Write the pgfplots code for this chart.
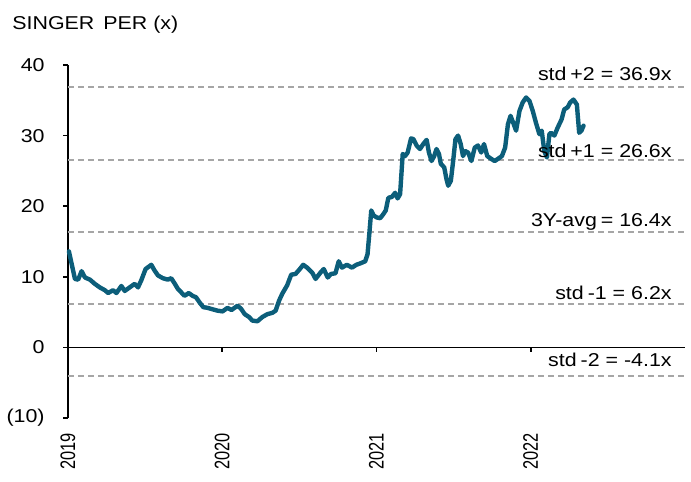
\documentclass[border=0pt]{standalone}
\usepackage{fontspec}
\setmainfont{Liberation Sans}[FakeStretch=1.15]
\newfontfamily\rotfont{Liberation Sans}[FakeStretch=0.78]
\usepackage{pgfplots}
\pgfplotsset{compat=1.18}
\definecolor{teal1}{RGB}{12,94,122}
\definecolor{dgrey}{RGB}{166,166,166}
\begin{document}
\begin{tikzpicture}[font=\fontsize{9.3}{11}\selectfont]
\useasboundingbox (-34pt,-32pt) rectangle (311.5pt,209pt);
\begin{axis}[
  scale only axis,
  width=308.5pt, height=176.5pt,
  xmin=2019, xmax=2023,
  ymin=-10, ymax=40,
  axis lines*=left,
  x axis line style={draw=none},
  y axis line style={line width=0.8pt},
  xtick={2019,2020,2021,2022},
  xticklabels={2019,2020,2021,2022},
  xtick style={draw=none},
  ytick={-10,0,10,20,30,40},
  yticklabels={(10),0,10,20,30,40},
  ytick style={line width=0.8pt, black},
  tick align=outside,
  major tick length=2.5pt,
  /pgf/number format/assume math mode=true,
  xticklabel style={font=\rotfont\fontsize{10.5}{12}\selectfont, rotate=90, anchor=east, inner sep=0pt},
  xticklabel shift=5pt,
  yticklabel style={anchor=east, inner sep=0pt},
  yticklabel shift=9pt,
  clip=false,
]
% reference lines
\addplot[dgrey, line width=1pt, dash pattern=on 3pt off 2pt] coordinates {(2019,36.9) (2023,36.9)};
\addplot[dgrey, line width=1pt, dash pattern=on 3pt off 2pt] coordinates {(2019,26.6) (2023,26.6)};
\addplot[dgrey, line width=1pt, dash pattern=on 3pt off 2pt] coordinates {(2019,16.4) (2023,16.4)};
\addplot[dgrey, line width=1pt, dash pattern=on 3pt off 2pt] coordinates {(2019,6.2) (2023,6.2)};
\addplot[dgrey, line width=1pt, dash pattern=on 3pt off 2pt] coordinates {(2019,-4.1) (2023,-4.1)};
% zero axis and its ticks
\addplot[black, line width=0.8pt] coordinates {(2019,0) (2023,0)};
\addplot[black, line width=0.8pt, ycomb] coordinates {(2020,-0.7) (2021,-0.7) (2022,-0.7)};
% PER series
\addplot[teal1, line width=2.2pt, line join=round, line cap=round] coordinates {
(2019.006,13.6) (2019.024,11.8) (2019.045,9.7) (2019.066,9.6) (2019.088,10.8)
(2019.110,9.9) (2019.142,9.6) (2019.174,9.0) (2019.206,8.5) (2019.239,8.1)
(2019.260,7.7) (2019.292,8.1) (2019.314,7.7) (2019.346,8.7) (2019.368,8.0)
(2019.400,8.5) (2019.432,9.0) (2019.454,8.5) (2019.475,9.5) (2019.503,11.1)
(2019.540,11.7) (2019.561,10.9) (2019.583,10.2) (2019.615,9.8) (2019.647,9.6)
(2019.669,9.8) (2019.690,9.1) (2019.712,8.3) (2019.734,7.8) (2019.755,7.3)
(2019.783,7.7) (2019.808,7.3) (2019.830,7.1) (2019.852,6.4) (2019.877,5.7)
(2019.905,5.6) (2019.937,5.4) (2019.970,5.2) (2020.002,5.1) (2020.034,5.6)
(2020.060,5.3) (2020.099,5.9) (2020.121,5.5) (2020.146,4.7) (2020.174,4.3)
(2020.195,3.8) (2020.228,3.7) (2020.260,4.3) (2020.292,4.7) (2020.325,4.9)
(2020.346,5.2) (2020.368,6.6) (2020.389,7.6) (2020.421,8.8) (2020.447,10.3)
(2020.475,10.4) (2020.503,11.1) (2020.525,11.7) (2020.550,11.3) (2020.583,10.6)
(2020.605,9.7) (2020.637,10.6) (2020.658,11.1) (2020.684,9.9) (2020.705,10.4)
(2020.734,10.5) (2020.755,12.2) (2020.776,11.3) (2020.808,11.7) (2020.841,11.3)
(2020.869,11.7) (2020.895,11.9) (2020.927,12.2) (2020.942,13.2) (2020.955,16.5)
(2020.966,19.4) (2020.981,18.7) (2021.002,18.4) (2021.024,18.3) (2021.045,18.9)
(2021.060,19.4) (2021.077,21.2) (2021.099,21.3) (2021.121,21.9) (2021.137,21.1)
(2021.153,21.7) (2021.170,27.4) (2021.185,27.1) (2021.202,27.6) (2021.224,29.6)
(2021.239,29.5) (2021.260,28.6) (2021.282,28.1) (2021.303,28.8) (2021.325,29.4)
(2021.340,27.6) (2021.357,26.4) (2021.374,27.1) (2021.389,28.1) (2021.405,27.4)
(2021.417,26.0) (2021.439,25.5) (2021.454,23.8) (2021.465,22.9) (2021.482,23.6)
(2021.497,26.4) (2021.512,29.5) (2021.529,30.0) (2021.546,28.8) (2021.561,27.1)
(2021.576,27.8) (2021.594,27.6) (2021.615,26.4) (2021.637,28.3) (2021.658,28.6)
(2021.679,27.6) (2021.697,28.8) (2021.718,27.1) (2021.744,26.7) (2021.766,26.4)
(2021.787,26.7) (2021.813,27.1) (2021.834,28.3) (2021.852,31.6) (2021.869,32.8)
(2021.890,31.6) (2021.905,30.7) (2021.927,33.5) (2021.948,34.7) (2021.970,35.4)
(2021.992,34.9) (2022.013,33.5) (2022.034,31.8) (2022.056,30.2) (2022.071,30.7)
(2022.088,27.8) (2022.105,26.9) (2022.121,30.2) (2022.131,30.4) (2022.153,30.0)
(2022.174,31.1) (2022.200,32.3) (2022.217,33.7) (2022.239,34.0) (2022.256,34.7)
(2022.277,35.1) (2022.299,34.4) (2022.314,30.4) (2022.329,30.7) (2022.342,31.4)
};
% labels
\node[anchor=base east, inner sep=0pt, yshift=3pt, xshift=-6.5pt] at (axis cs:2023,36.9) {std\hspace{-1pt} +2 = 36.9x};
\node[anchor=base east, inner sep=0pt, yshift=1.2pt, xshift=-6.5pt] at (axis cs:2023,26.6) {std\hspace{-1pt} +1 = 26.6x};
\node[anchor=base east, inner sep=0pt, yshift=2.5pt, xshift=-6.5pt] at (axis cs:2023,16.4) {3Y-avg\hspace{-1pt} = 16.4x};
\node[anchor=base east, inner sep=0pt, yshift=2pt, xshift=-6.5pt] at (axis cs:2023,6.2) {std\hspace{-1pt} -1 = 6.2x};
\node[anchor=base east, inner sep=0pt, yshift=5pt, xshift=-6.5pt] at (axis cs:2023,-4.1) {std\hspace{-1pt} -2 = -4.1x};
\node[anchor=base west, inner sep=0pt] at ([xshift=-28pt, yshift=17.5pt]rel axis cs:0,1) {SINGER\hspace{1.5pt} PER (x)};
\end{axis}
\end{tikzpicture}
\end{document}
